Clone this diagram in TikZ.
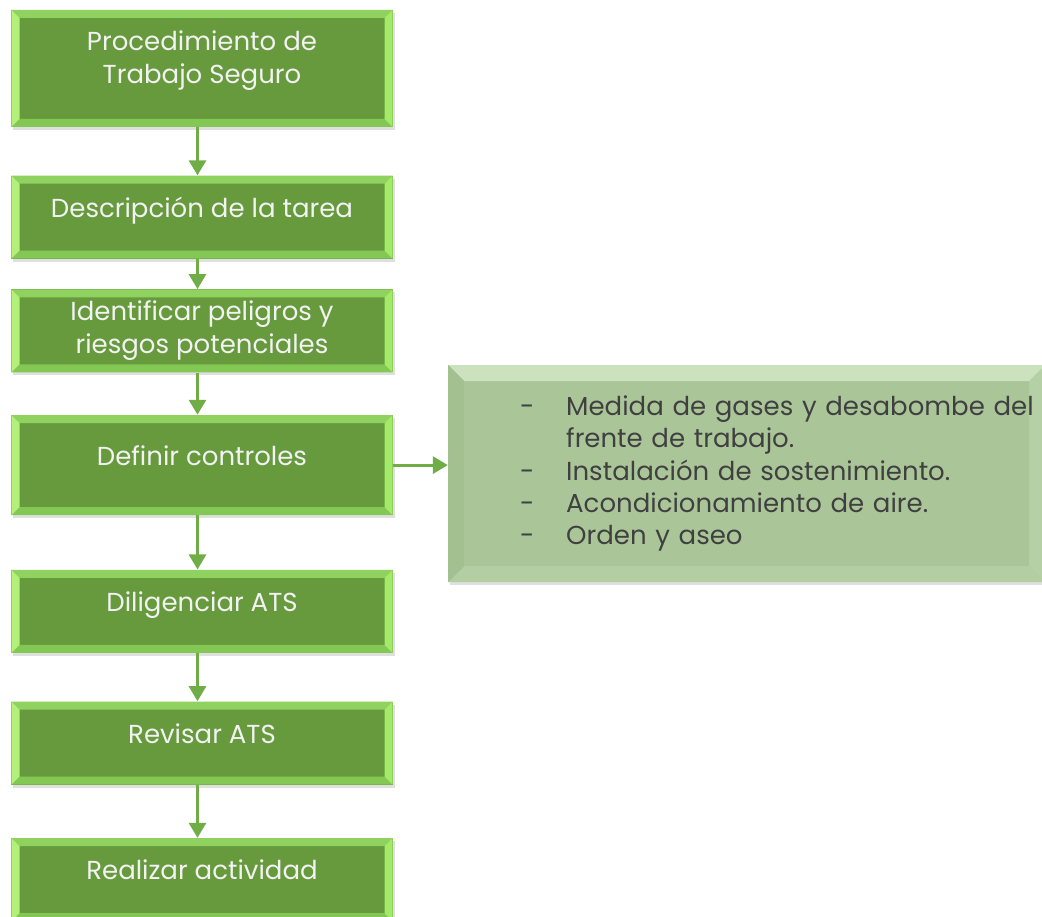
\documentclass[tikz,border=0pt]{standalone}
\usepackage{fontspec}
\setmainfont{Poppins}
\usetikzlibrary{positioning, arrows.meta, shadows}
\usepackage{xcolor}

\definecolor{verdecara}{RGB}{103,154,61}
\definecolor{verdesup}{RGB}{143,210,96}
\definecolor{verdeizq}{RGB}{178,240,122}
\definecolor{verdeder}{RGB}{162,234,104}
\definecolor{verdeinf}{RGB}{131,200,84}
\definecolor{notacara}{RGB}{170,198,152}
\definecolor{notasup}{RGB}{204,226,190}
\definecolor{notaizq}{RGB}{162,192,144}
\definecolor{notader}{RGB}{180,208,164}
\definecolor{notainf}{RGB}{178,206,162}
\definecolor{flechaverde}{RGB}{112,173,71}
\definecolor{textonota}{RGB}{64,64,64}

% bisel: ancho, arriba, izquierda, derecha, abajo
\newcommand{\bisel}[5]{%
  \fill[#2] (path picture bounding box.north west) -- (path picture bounding box.north east)
    -- ([shift={(-#1,-#1)}]path picture bounding box.north east)
    -- ([shift={(#1,-#1)}]path picture bounding box.north west) -- cycle;
  \fill[#5] (path picture bounding box.south west) -- (path picture bounding box.south east)
    -- ([shift={(-#1,#1)}]path picture bounding box.south east)
    -- ([shift={(#1,#1)}]path picture bounding box.south west) -- cycle;
  \fill[#3] (path picture bounding box.north west) -- (path picture bounding box.south west)
    -- ([shift={(#1,#1)}]path picture bounding box.south west)
    -- ([shift={(#1,-#1)}]path picture bounding box.north west) -- cycle;
  \fill[#4] (path picture bounding box.north east) -- (path picture bounding box.south east)
    -- ([shift={(-#1,#1)}]path picture bounding box.south east)
    -- ([shift={(-#1,-#1)}]path picture bounding box.north east) -- cycle;
}
\newcommand{\guion}[1]{\hspace*{1.24cm}\makebox[0.92cm][l]{-}\mbox{#1}}

\begin{document}
\begin{tikzpicture}[
        paso/.style={rectangle, fill=verdecara, minimum width=7.62cm, minimum height=1.66cm,
            align=center, text=white!95!black, font=\fontsize{14.8}{18.8}\selectfont,
            drop shadow={shadow xshift=0.04cm, shadow yshift=-0.06cm, opacity=0.25},
            path picture={\bisel{0.16cm}{verdesup}{verdeizq}{verdeder}{verdeinf}}},
        arriba/.style={text height=0.45cm, text depth=0.45cm},
        nota/.style={rectangle, fill=notacara, minimum width=11.94cm, minimum height=4.34cm,
            text width=11.54cm, inner xsep=0.2cm, align=left, text=textonota,
            font=\fontsize{14.8}{18.3}\selectfont,
            drop shadow={shadow xshift=0.04cm, shadow yshift=-0.06cm, opacity=0.25},
            path picture={\bisel{0.32cm}{notasup}{notaizq}{notader}{notainf}}},
        flecha/.style={-{Triangle[width=0.34cm, length=0.3cm]}, line width=0.06cm, draw=flechaverde},
    ]
        \useasboundingbox (0,0) rectangle (20.84,-18.34);

        \node[paso, minimum height=2.34cm, text depth=0.46cm] (procedimiento) at (4.04,-1.37) {Procedimiento de\\Trabajo Seguro};
        \node[paso, arriba, below=0.96cm of procedimiento] (descripcion) {Descripción de la tarea};
        \node[paso, below=0.6cm of descripcion] (peligros) {Identificar peligros y\\riesgos potenciales};
        \node[paso, arriba, minimum height=2cm, below=0.84cm of peligros] (controles) {Definir controles};
        \node[paso, arriba, below=1.08cm of controles] (diligenciar) {Diligenciar ATS};
        \node[paso, arriba, below=0.96cm of diligenciar] (revisar) {Revisar ATS};
        \node[paso, arriba, below=1.06cm of revisar] (realizar) {Realizar actividad};

        \node[nota, right=1.1cm of controles, yshift=-0.17cm] (medidas) {%
            \guion{Medida de gases y desabombe del}\\
            \hspace*{2.16cm}frente de trabajo.\\
            \guion{Instalación de sostenimiento.}\\
            \guion{Acondicionamiento de aire.}\\
            \guion{Orden y aseo}};

        \foreach \a/\b in {procedimiento/descripcion, descripcion/peligros, peligros/controles,
                controles/diligenciar, diligenciar/revisar, revisar/realizar}
            \draw[flecha] ([xshift=-0.09cm]\a.south) -- ([xshift=-0.09cm]\b.north);
        \draw[flecha] (controles.east) -- (controles.east -| medidas.west);
    \end{tikzpicture}
\end{document}
